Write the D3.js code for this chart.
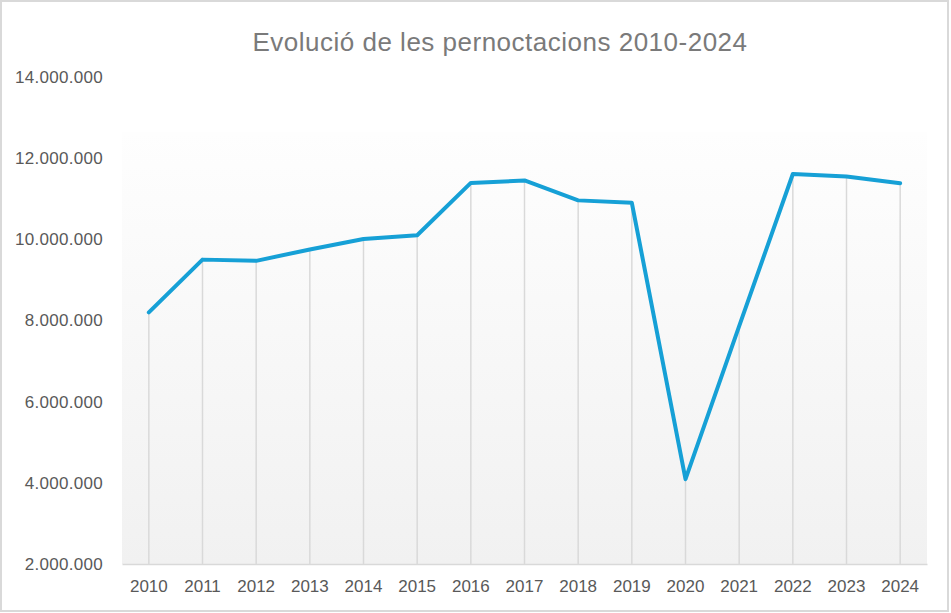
<!DOCTYPE html>
<html>
<head>
<meta charset="utf-8">
<script src="https://cdn.jsdelivr.net/npm/d3@7"></script>
<style>
  body { margin: 0; background: #fff; }
  svg { display: block; }
</style>
</head>
<body>
<svg></svg>
<script>
// Chart data
const titleText = 'Evolució de les pernoctacions 2010-2024';
const years = ['2010', '2011', '2012', '2013', '2014', '2015', '2016', '2017',
               '2018', '2019', '2020', '2021', '2022', '2023', '2024'];
const nights = [8200000, 9500000, 9470000, 9750000, 10010000, 10100000, 11390000, 11450000,
                10960000, 10900000, 4090000, 7860000, 11610000, 11550000, 11380000];
const yTicks = [2000000, 4000000, 6000000, 8000000, 10000000, 12000000, 14000000];

document.addEventListener('DOMContentLoaded', function () {
    const width = 951, height = 613;
    const padding = {top: 77, right: 24, bottom: 49, left: 122};

    const svg = d3.select('svg').attr('width', width).attr('height', height);

    // outer frame
    svg.append('rect')
        .attr('x', 1).attr('y', 1)
        .attr('width', 947).attr('height', 610)
        .attr('fill', '#fff')
        .attr('stroke', '#d9d9d9')
        .attr('stroke-width', 2);

    const xScale = d3.scaleBand()
        .domain(years)
        .range([padding.left, width - padding.right]);

    const yScale = d3.scaleLinear()
        .domain([2000000, 14000000])
        .range([height - padding.bottom, padding.top]);

    // plot area gradient (white at top, light grey at bottom)
    const grad = svg.append('defs').append('linearGradient')
        .attr('id', 'plotGrad')
        .attr('x1', 0).attr('y1', 0).attr('x2', 0).attr('y2', 1);
    grad.append('stop').attr('offset', '0%').attr('stop-color', '#fefefe');
    grad.append('stop').attr('offset', '100%').attr('stop-color', '#f1f1f1');

    const plotTop = 132;
    svg.append('rect')
        .attr('x', padding.left)
        .attr('y', plotTop)
        .attr('width', width - padding.right - padding.left)
        .attr('height', yScale(2000000) - plotTop)
        .attr('fill', 'url(#plotGrad)');

    // title
    svg.append('text')
        .attr('x', 500)
        .attr('y', 51)
        .attr('text-anchor', 'middle')
        .attr('font-family', 'Liberation Sans, Arial, sans-serif')
        .attr('font-size', 26)
        .attr('letter-spacing', 0.5)
        .attr('fill', '#7a7a7a')
        .text(titleText);

    // drop lines from each point to the axis
    svg.selectAll('.drop')
        .data(years)
        .enter().append('line')
        .attr('class', 'drop')
        .attr('x1', d => xScale(d) + xScale.bandwidth() / 2)
        .attr('x2', d => xScale(d) + xScale.bandwidth() / 2)
        .attr('y1', (d, i) => yScale(nights[i]))
        .attr('y2', yScale(2000000))
        .attr('stroke', '#d9d9d9')
        .attr('stroke-width', 1.5);

    // x axis
    const xAxis = svg.append('g')
        .attr('transform', `translate(0,${yScale(2000000)})`)
        .call(d3.axisBottom(xScale).tickSize(0).tickPadding(16));
    xAxis.select('.domain').attr('stroke', '#d9d9d9').attr('stroke-width', 1.5);
    xAxis.selectAll('text')
        .attr('font-family', 'Liberation Sans, Arial, sans-serif')
        .attr('font-size', 17)
        .attr('fill', '#595959');

    // y axis (labels only)
    const fmt = v => d3.format(',')(v).replace(/,/g, '.');
    const yAxis = svg.append('g')
        .attr('transform', `translate(${padding.left - 19},0)`)
        .call(d3.axisLeft(yScale).tickValues(yTicks).tickFormat(fmt).tickSize(0).tickPadding(0));
    yAxis.select('.domain').remove();
    yAxis.selectAll('text')
        .attr('font-family', 'Liberation Sans, Arial, sans-serif')
        .attr('font-size', 17)
        .attr('letter-spacing', 0.3)
        .attr('fill', '#595959');

    // line
    const line = d3.line()
        .x((d, i) => xScale(years[i]) + xScale.bandwidth() / 2)
        .y(d => yScale(d));

    svg.append('path')
        .datum(nights)
        .attr('d', line)
        .attr('fill', 'none')
        .attr('stroke', '#16a0d6')
        .attr('stroke-width', 4)
        .attr('stroke-linejoin', 'round')
        .attr('stroke-linecap', 'round');
});
</script>
</body>
</html>
